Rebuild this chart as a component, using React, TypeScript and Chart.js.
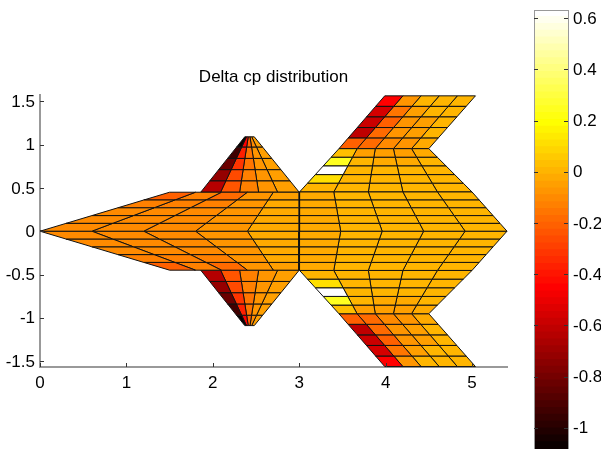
import React, { useEffect, useRef } from "react";
import { Chart, registerables } from "chart.js";

Chart.register(...registerables);

const TITLE = "Delta cp distribution";
const X_TICKS = [0, 1, 2, 3, 4, 5];
const Y_TICKS = [-1.5, -1, -0.5, 0, 0.5, 1, 1.5];
const CB_TICKS = [-1, -0.8, -0.6, -0.4, -0.2, 0, 0.2, 0.4, 0.6];
const C_MIN = -1.083;
const C_MAX = 0.632;

// Mesh stations: chord-line x at the root and tip of each section, and the span stations.
const bodyRootX = [0, 0.6, 1.2, 1.8, 2.4, 2.996];
const bodyTipX = [1.5, 1.8, 2.1, 2.4, 2.7, 2.996];
const bodyY = [0, 0.09, 0.18, 0.27, 0.36, 0.45];
const canardRootX = [1.86, 2.09, 2.31, 2.53, 2.75, 3];
const canardTipX = [2.37, 2.39, 2.41, 2.43, 2.45, 2.48];
const canardY = [0.45, 0.58, 0.71, 0.84, 0.97, 1.09];
const rearRootX = [3.004, 3.48, 3.96, 4.44, 4.92, 5.405];
const rearMidX = [3.004, 3.4, 3.8, 4.2, 4.6, 5];
const rearY = [0, 0.09, 0.18, 0.27, 0.36, 0.453];
const midTipX = [3.46, 3.67, 3.88, 4.09, 4.3, 4.5];
const midY = [0.453, 0.553, 0.653, 0.753, 0.853, 0.953];
const outerTipX = [3.99, 4.2, 4.41, 4.62, 4.83, 5.04];
const outerY = [0.953, 1.075, 1.197, 1.319, 1.441, 1.563];

// Delta cp per panel: rows root to tip, columns leading edge to trailing edge.
const bodyCp = [
  [-0.105, -0.105, -0.105, -0.08, -0.03],
  [-0.105, -0.105, -0.105, -0.08, -0.03],
  [-0.11, -0.105, -0.105, -0.08, -0.03],
  [-0.14, -0.12, -0.12, -0.08, -0.03],
  [-0.21, -0.14, -0.19, -0.08, -0.04],
];
const canardCp = [
  [-0.64, -0.24, -0.125, -0.09, -0.04],
  [-0.73, -0.276, -0.14, -0.09, -0.04],
  [-0.83, -0.31, -0.15, -0.09, -0.04],
  [-0.93, -0.365, -0.16, -0.09, -0.04],
  [-1.07, -0.44, -0.21, -0.11, -0.04],
];
const rearCp = [
  [-0.02, 0.0, 0.0, 0.0, 0.0],
  [-0.02, 0.0, 0.0, 0.0, 0.0],
  [-0.02, 0.0, 0.0, 0.0, 0.0],
  [-0.02, 0.0, 0.0, 0.0, 0.0],
  [-0.02, 0.0, 0.0, 0.0, 0.0],
];
const midCp = [
  [0.0, 0.0, 0.0, 0.0, 0.0],
  [0.115, 0.01, 0.0, 0.0, 0.0],
  [0.632, 0.01, 0.0, -0.01, 0.0],
  [0.25, -0.01, -0.02, -0.02, -0.01],
  [0.04, -0.06, -0.06, -0.05, -0.02],
];
const outerCp = [
  [-0.21, -0.18, -0.11, -0.07, -0.02],
  [-0.61, -0.19, -0.09, -0.05, -0.01],
  [-0.58, -0.21, -0.09, -0.04, 0.0],
  [-0.55, -0.15, -0.06, -0.01, 0.01],
  [-0.45, -0.07, -0.01, 0.0, 0.0],
];

const hot = (i: number) => {
  const f = (i + 1) / 64;
  const r = Math.min(1, f / 0.375);
  const g = Math.max(0, Math.min(1, (f - 0.375) / 0.375));
  const b = Math.max(0, Math.min(1, (f - 0.75) / 0.25));
  return `rgb(${Math.round(r * 255)},${Math.round(g * 255)},${Math.round(b * 255)})`;
};
const colourOf = (v: number) => {
  const i = Math.floor(((v - C_MIN) / (C_MAX - C_MIN)) * 64);
  return hot(Math.max(0, Math.min(63, i)));
};

const section = (rootX: number[], tipX: number[], ys: number[], cp: number[][]) => {
  const out: any[] = [];
  const xAt = (c: number, r: number) => rootX[c] + ((tipX[c] - rootX[c]) * (ys[r] - ys[0])) / (ys[ys.length - 1] - ys[0]);
  for (const side of [1, -1]) {
    cp.forEach((row, r) =>
      row.forEach((v, c) => {
        out.push({
          data: [
            { x: xAt(c, r), y: side * ys[r] },
            { x: xAt(c + 1, r), y: side * ys[r] },
            { x: xAt(c + 1, r + 1), y: side * ys[r + 1] },
            { x: xAt(c, r + 1), y: side * ys[r + 1] },
            { x: xAt(c, r), y: side * ys[r] },
          ],
          showLine: true,
          fill: "shape",
          backgroundColor: colourOf(v),
          borderColor: "#111",
          borderWidth: 1,
          pointRadius: 0,
          tension: 0,
          clip: false,
        });
      })
    );
  }
  return out;
};

const FONT = { family: "'Liberation Sans', Arial, sans-serif", size: 17 };

const innerTicks = {
  id: "innerTicks",
  afterDraw(chart: any) {
    const { ctx, chartArea: a, scales } = chart;
    ctx.save();
    ctx.strokeStyle = "#333";
    ctx.lineWidth = 1;
    ctx.beginPath();
    if (scales.y && scales.x.options.display) {
      scales.x.ticks.forEach((_: any, i: number) => {
        const p = Math.round(scales.x.getPixelForTick(i)) + 0.5;
        ctx.moveTo(p, a.bottom);
        ctx.lineTo(p, a.bottom - 4);
      });
    }
    if (scales.y) {
      scales.y.ticks.forEach((_: any, i: number) => {
        const p = Math.round(scales.y.getPixelForTick(i)) + 0.5;
        ctx.moveTo(a.left, p);
        ctx.lineTo(a.left + 4, p);
      });
    }
    if (scales.cb) {
      scales.cb.ticks.forEach((_: any, i: number) => {
        const p = Math.round(scales.cb.getPixelForTick(i)) + 0.5;
        ctx.moveTo(a.left, p);
        ctx.lineTo(a.left + 4, p);
        ctx.moveTo(a.right, p);
        ctx.lineTo(a.right - 4, p);
      });
    }
    ctx.stroke();
    ctx.restore();
  },
};

const cbBox = {
  id: "cbBox",
  afterDatasetsDraw(chart: any) {
    const { ctx, chartArea: a } = chart;
    ctx.save();
    ctx.strokeStyle = "#999";
    ctx.lineWidth = 1;
    ctx.strokeRect(a.left + 0.5, a.top + 0.5, a.right - a.left, a.bottom - a.top + 2);
    ctx.restore();
  },
};

export default function App() {
  const mainRef = useRef<HTMLCanvasElement>(null);
  const cbRef = useRef<HTMLCanvasElement>(null);

  useEffect(() => {
    const main = new Chart(mainRef.current!, {
      type: "scatter",
      data: {
        datasets: [
          ...section(bodyRootX, bodyTipX, bodyY, bodyCp),
          ...section(canardRootX, canardTipX, canardY, canardCp),
          ...section(rearRootX, rearMidX, rearY, rearCp),
          ...section(rearMidX, midTipX, midY, midCp),
          ...section(midTipX, outerTipX, outerY, outerCp),
        ],
      },
      options: {
        responsive: false,
        animation: false,
        layout: { padding: { top: 62, right: 94, left: 0, bottom: 0 } },
        plugins: {
          legend: { display: false },
          tooltip: { enabled: false },
          title: {
            display: true,
            text: TITLE,
            color: "#000",
            fullSize: false,
            font: { family: FONT.family, size: 17, weight: "normal" },
            padding: { top: 5, bottom: 8 },
          },
        },
        scales: {
          x: {
            type: "linear",
            min: 0,
            max: 5.405,
            afterBuildTicks: (s: any) => {
              s.ticks = X_TICKS.map((value) => ({ value }));
            },
            afterFit: (s: any) => {
              s.height = 82;
              s.paddingLeft = 0;
              s.paddingRight = 0;
            },
            grid: { display: false, drawTicks: false },
            border: { display: true, color: "#999", width: 2 },
            ticks: { color: "#000", font: FONT, padding: 6, maxRotation: 0, autoSkip: false, callback: (v: any) => String(v) },
          },
          y: {
            type: "linear",
            min: -1.568,
            max: 1.568,
            afterBuildTicks: (s: any) => {
              s.ticks = Y_TICKS.map((value) => ({ value }));
            },
            afterFit: (s: any) => {
              s.width = 40;
              s.paddingTop = 0;
              s.paddingBottom = 0;
            },
            grid: { display: false, drawTicks: false },
            border: { display: true, color: "#999", width: 2 },
            ticks: { color: "#000", font: FONT, padding: 5, labelOffset: 1, maxRotation: 0, autoSkip: false, callback: (v: any) => String(v) },
          },
        },
      } as any,
      plugins: [innerTicks],
    });

    const levels = Array.from({ length: 64 }, (_, i) => i);
    const step = (C_MAX - C_MIN) / 64;
    const cb = new Chart(cbRef.current!, {
      type: "bar",
      data: {
        labels: ["c"],
        datasets: levels.map((i) => ({
          data: [[C_MIN + i * step, C_MIN + (i + 1) * step + 0.002]],
          backgroundColor: hot(i),
          borderWidth: 0,
          barPercentage: 1,
          categoryPercentage: 1,
          grouped: false,
          yAxisID: "cb",
        })),
      },
      options: {
        responsive: false,
        animation: false,
        layout: { padding: { top: 10, left: 534, right: 0, bottom: 0 } },
        plugins: { legend: { display: false }, tooltip: { enabled: false } },
        scales: {
          x: { display: false, type: "category" },
          cb: {
            type: "linear",
            position: "right",
            axis: "y",
            min: C_MIN,
            max: C_MAX,
            afterBuildTicks: (s: any) => {
              s.ticks = CB_TICKS.map((value) => ({ value }));
            },
            afterFit: (s: any) => {
              s.width = 601 - 568;
              s.paddingTop = 0;
              s.paddingBottom = 0;
            },
            grid: { display: false, drawTicks: false },
            border: { display: false },
            ticks: { color: "#000", font: FONT, padding: 5, labelOffset: 1, autoSkip: false, maxRotation: 0, callback: (v: any) => String(v) },
          },
        },
      } as any,
      plugins: [cbBox, innerTicks],
    });
    return () => {
      main.destroy();
      cb.destroy();
    };
  }, []);

  const st: React.CSSProperties = { position: "absolute", left: 0, top: 0 };
  return (
    <div style={{ position: "fixed", left: 0, top: 0, width: 601, height: 449, overflow: "hidden", background: "#fff" }}>
      <canvas ref={mainRef} width={601} height={449} style={st} />
      <canvas ref={cbRef} width={601} height={449} style={st} />
    </div>
  );
}
